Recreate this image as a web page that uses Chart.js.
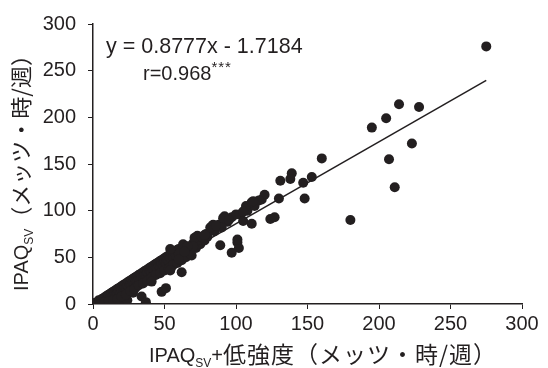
<!DOCTYPE html>
<html>
<head>
<meta charset="utf-8">
<script src="https://cdn.jsdelivr.net/npm/chart.js@4"></script>
<style>
  html, body { margin: 0; padding: 0; background: #fff; }
  #wrap { width: 548px; height: 368px; }
</style>
</head>
<body>
<div id="wrap"><canvas id="chart" width="548" height="368"></canvas></div>
<script>
// --- data ---
// x = IPAQsv + low intensity, y = IPAQsv (METs·h/week)
const xVals = [
    0, 1, 2, 3, 4, 5, 6, 7, 8, 9, 10, 10, 11, 12, 12, 13, 14, 14, 15, 15,
    16, 16, 17, 17, 18, 18, 19, 19, 20, 20, 21, 21, 22, 22, 23, 23, 24, 24, 25, 25,
    26, 26, 27, 27, 28, 28, 29, 29, 30, 30, 31, 31, 32, 32, 33, 33, 34, 34, 35, 35,
    36, 36, 37, 37, 38, 38, 39, 39, 40, 40, 41, 41, 42, 42, 43, 43, 44, 44, 45, 45,
    46, 46, 47, 47, 48, 48, 49, 49, 50, 50, 51, 51, 52, 52, 53, 53, 54, 54, 55, 55,
    56, 56, 57, 58, 58, 59, 60, 60,
    3, 6, 9, 12, 15, 18, 21, 24, 28, 30,
    5, 8, 11, 14, 17, 20, 23, 26, 29, 32, 35, 38, 41, 44, 47, 50, 53, 56, 59, 62,
    65, 68, 72, 75, 78, 80, 66, 70, 74, 77, 79, 85, 88, 94, 97, 103, 108, 113, 118, 120,
    63, 54, 73, 71, 84, 82, 90, 100, 92, 105, 111, 107, 111, 116, 124, 127,
    130, 148, 131, 139, 147, 153, 160, 138, 105, 89, 101, 102, 97, 112, 91, 83,
    69, 62, 54, 48, 51, 34, 37, 41, 101, 70, 66, 76, 78, 86, 95, 60, 64,
    275, 214, 228, 205, 195, 223, 207, 211, 180
];
const yVals = [
    0, 1, 1, 2, 4, 3, 5, 6, 7, 8, 9, 5, 10, 11, 6, 12, 13, 8, 14, 10,
    15, 9, 16, 12, 17, 14, 18, 11, 19, 15, 20, 13, 21, 17, 22, 16, 23, 19, 24, 18,
    25, 21, 26, 20, 27, 23, 28, 22, 29, 25, 30, 24, 31, 27, 32, 26, 33, 29, 34, 28,
    35, 31, 36, 30, 37, 33, 38, 32, 39, 35, 40, 34, 41, 37, 42, 36, 43, 39, 44, 38,
    45, 41, 46, 40, 47, 43, 48, 42, 49, 45, 50, 44, 51, 47, 52, 46, 53, 49, 54, 40,
    55, 50, 56, 57, 52, 58, 59, 54,
    0, 0, 1, 0, 2, 1, 3, 4, 12, 18,
    0, 2, 3, 4, 5, 8, 10, 14, 16, 20, 22, 25, 28, 31, 33, 36, 38, 42, 44, 47,
    50, 56, 60, 64, 68, 72, 60, 65, 69, 71, 75, 78, 85, 88, 93, 96, 100, 105, 112, 117,
    64, 59, 73, 71, 85, 82, 82, 96, 94, 89, 86, 105, 109, 111, 91, 93,
    113, 113, 132, 140, 130, 136, 156, 134, 99, 63, 66, 60, 55, 110, 92, 83,
    52, 34, 36, 13, 17, 8, 2, 24, 69, 62, 62, 72, 74, 84, 90, 48, 56,
    276, 214, 211, 199, 189, 172, 155, 125, 90
];
const slope = 0.8777;
const intercept = -1.7184;
const tickValues = [0, 50, 100, 150, 200, 250, 300];
const eqText = 'y = 0.8777x - 1.7184';
const rText = 'r=0.968';
const rStars = '***';

const ink = '#231f20';
const latin = '"Liberation Sans", Arial, sans-serif';
const cjk = '"Noto Sans CJK JP", sans-serif';

const points = xVals.map((x, i) => ({ x: x, y: yVals[i] }));
const xMin = Math.min(...xVals);
const xMax = Math.max(...xVals);
const fitLine = [
    { x: xMin, y: slope * xMin + intercept },
    { x: xMax, y: slope * xMax + intercept }
];

// "IPAQ" + subscript "SV" + latin extra + japanese part, from (x0, y0) along the current frame
function drawSubTitle(ctx, x0, y0, plus, rest, cjkSize, spacing) {
    const parts = [
        { t: 'IPAQ', f: '20px ' + latin, dy: 0, ls: 0 },
        { t: 'SV', f: '12px ' + latin, dy: 5, ls: 0 },
        { t: plus, f: '20px ' + latin, dy: 0, ls: 0 },
        { t: rest, f: cjkSize + 'px ' + cjk, dy: 1, ls: spacing }
    ];
    ctx.textAlign = 'left';
    ctx.textBaseline = 'alphabetic';
    let x = x0;
    parts.forEach(p => {
        if (!p.t) return;
        ctx.font = p.f;
        ctx.letterSpacing = p.ls + 'px';
        ctx.fillText(p.t, x, y0 + p.dy);
        x += ctx.measureText(p.t).width;
    });
    ctx.letterSpacing = '0px';
}

const textPlugin = {
    id: 'textPlugin',
    afterDraw(chart) {
        const ctx = chart.ctx;
        ctx.save();
        ctx.fillStyle = ink;

        // x axis title
        drawSubTitle(ctx, 149, 362, '+', '低強度（メッツ・時/週）', 23, 1);

        // y axis title (rotated)
        ctx.save();
        ctx.translate(28, 291);
        ctx.rotate(-Math.PI / 2);
        drawSubTitle(ctx, 0, 0, '', '（メッツ・時/週）', 22, 0);
        ctx.restore();

        // regression text
        ctx.font = '21.5px ' + latin;
        ctx.textAlign = 'left';
        ctx.textBaseline = 'alphabetic';
        ctx.fillText(eqText, 106, 53);
        ctx.font = '20px ' + latin;
        ctx.fillText(rText, 143, 80);
        const rw = ctx.measureText(rText).width;
        ctx.font = '15px ' + latin;
        ctx.letterSpacing = '1px';
        ctx.fillText(rStars, 143 + rw, 72);
        ctx.letterSpacing = '0px';
        ctx.restore();
    }
};

const ctx = document.getElementById('chart').getContext('2d');
const chart = new Chart(ctx, {
    type: 'scatter',
    data: {
        datasets: [{
            label: 'data',
            data: points,
            pointRadius: 5,
            pointHoverRadius: 5,
            backgroundColor: ink,
            borderColor: ink,
            borderWidth: 0
        }, {
            type: 'line',
            label: 'fit',
            data: fitLine,
            borderColor: ink,
            borderWidth: 1.5,
            pointRadius: 0,
            fill: false
        }]
    },
    options: {
        responsive: false,
        animation: false,
        events: [],
        layout: { padding: { left: 0, right: 26, top: 20, bottom: 0 } },
        scales: {
            x: {
                type: 'linear',
                min: 0,
                max: 300,
                afterBuildTicks: (s) => { s.ticks = tickValues.map(v => ({ value: v })); },
                afterFit: (s) => { s.height = 64; },
                grid: { drawOnChartArea: false, drawTicks: true, tickLength: 5, color: ink },
                border: { color: ink, width: 1.5 },
                ticks: { color: ink, padding: 3, maxRotation: 0, font: { family: latin, size: 20 } }
            },
            y: {
                type: 'linear',
                min: 0,
                max: 300,
                afterBuildTicks: (s) => { s.ticks = tickValues.map(v => ({ value: v })); },
                afterFit: (s) => { s.width = 93; },
                grid: { drawOnChartArea: false, drawTicks: true, tickLength: 5, color: ink },
                border: { color: ink, width: 1.5 },
                ticks: { color: ink, padding: 12, font: { family: latin, size: 20 } }
            }
        },
        plugins: {
            legend: { display: false },
            tooltip: { enabled: false }
        }
    },
    plugins: [textPlugin]
});
</script>
</body>
</html>
